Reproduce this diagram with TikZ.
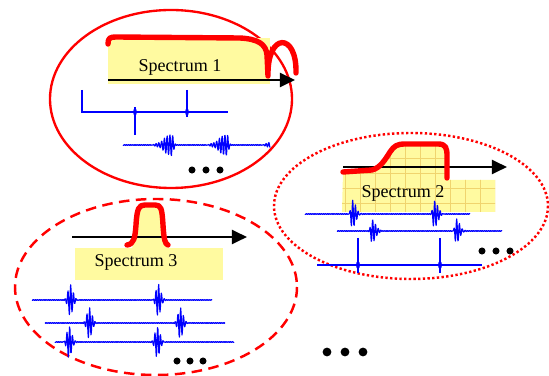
\documentclass[tikz,border=0pt]{standalone}
\usepackage{fontspec}
\setmainfont{Liberation Serif}
\usetikzlibrary{arrows.meta}
\definecolor{specyellow}{RGB}{255,250,160}
\definecolor{gridorange}{RGB}{240,212,110}
\tikzset{
  solidgroup/.style={draw=red,line width=2pt},
  dottedgroup/.style={draw=red,line width=2.1pt,dash pattern=on 2pt off 2pt},
  dashedgroup/.style={draw=red,line width=2.1pt,dash pattern=on 9pt off 5.5pt},
  spec/.style={draw=red,line width=4.6pt,line cap=round,line join=round},
  axis/.style={draw=black,line width=2.2pt,-{Triangle[length=13pt,width=12pt]}},
  signal/.style={draw=blue,line width=1pt,line join=round},
  spike/.style={draw=blue,line width=1.3pt},
  gridline/.style={draw=gridorange,line width=0.4pt},
  speclabel/.style={font=\fontsize{15.4}{18}\selectfont,inner sep=0pt},
  etc/.style={fill=black,circle,inner sep=0pt,minimum size=6pt},
  bigetc/.style={fill=black,circle,inner sep=0pt,minimum size=7.5pt},
  declare function={
    wcl(\wt)=max(min(\wt,40),-40);
    wav(\wt,\wa,\wb)=exp(-min(wcl(\wt)*wcl(\wt)/ifthenelse(\wt<0,\wa,\wb),12))*sin(130*wcl(\wt));
    wob(\wt)=sin(10*mod(17*\wt,36));
  }
}
\newcommand{\trace}[8]{\draw[signal] plot[domain=#2:#3,samples=420] (\x,{#1-#6*(wav(\x-#4,#7,#8)+wav(\x-#5,#7,#8))+0.4*wob(\x)});}
\begin{document}
\begin{tikzpicture}[x=0.03cm,y=-0.03cm]
  \useasboundingbox (0,0) rectangle (549,376);

  % the three groups
  \draw[solidgroup] (171,99) ellipse [x radius=121, y radius=89];
  \draw[dottedgroup] (411,206) ellipse [x radius=137, y radius=73];
  \draw[dashedgroup] (156,287) ellipse [x radius=141, y radius=88];

  % spectrum 1
  \fill[specyellow] (108,38) rectangle (270,84);
  \node[speclabel] (s1) at (180,67) {Spectrum 1};
  \coordinate (a1s) at (108,80);
  \coordinate (a1e) at (295,80);
  \draw[axis] (a1s) -- (a1e);
  \draw[spec] (108,44) .. controls (108,38) and (110,37) .. (116,37) -- (240,38)
    .. controls (258,39) and (266,44) .. (267,55) -- (268,76)
    .. controls (267,32) and (297,32) .. (296,73);
  \draw[spike] (82,90) -- (82,112) -- (228,112);
  \draw[spike] (135,107) -- (135,135);
  \draw[spike] (187,90) -- (187,117);
  \fill[blue] (135,112) ellipse [x radius=1.8, y radius=3.8];
  \fill[blue] (187,112) ellipse [x radius=1.8, y radius=3.8];
  \draw[signal] plot[domain=123:270,samples=420]
    (\x,{145-11*(wav(\x-172,110,4)+wav(\x-227,110,4)+wav(\x-282,110,4))+0.4*wob(\x)});
  \foreach \i/\px in {1/192,2/206,3/220}
    \node[etc] (e1\i) at (\px,170) {};

  % spectrum 2
  \begin{scope}
    \clip (343,172) -- (372,170) .. controls (380,168) and (385,160) .. (390,152)
      .. controls (394,146) and (397,144) .. (405,144) -- (438,144)
      .. controls (446,144) and (447,148) .. (447,156) -- (447,180)
      -- (495,180) -- (495,212) -- (342,212) -- cycle;
    \fill[specyellow] (330,130) rectangle (500,215);
    \foreach \gx in {345,360,...,495}
      \draw[gridline] (\gx,140) -- (\gx,215);
    \foreach \gy in {158,173,...,210}
      \draw[gridline] (335,\gy) -- (500,\gy);
  \end{scope}
  \node[speclabel] (s2) at (403,193) {Spectrum 2};
  \coordinate (a2s) at (343,167);
  \coordinate (a2e) at (507,167);
  \draw[axis] (a2s) -- (a2e);
  \draw[spec] (343,172) -- (372,170) .. controls (380,168) and (385,160) .. (390,152)
    .. controls (394,146) and (397,144) .. (405,144) -- (438,144)
    .. controls (446,144) and (447,148) .. (447,156) -- (447,178);
  \trace{214}{305}{470}{352}{434}{14}{3}{25}
  \trace{231}{337}{502}{372}{456}{12}{3}{25}
  \draw[spike] (317,265) -- (482,265);
  \draw[spike] (358,238) -- (358,273);
  \draw[spike] (440,238) -- (440,273);
  \fill[blue] (358,265) ellipse [x radius=2, y radius=4];
  \fill[blue] (440,265) ellipse [x radius=2, y radius=4];
  \foreach \i/\px in {1/482,2/496,3/510}
    \node[etc] (e2\i) at (\px,251) {};

  % spectrum 3
  \fill[specyellow] (75,248) rectangle (223,280);
  \fill[specyellow] (132,249) -- (136,225) .. controls (137,208) and (139,205) .. (145,205)
    -- (155,205) .. controls (161,205) and (162,208) .. (163,225) -- (167,249) -- cycle;
  \node[speclabel] (s3) at (136,262) {Spectrum 3};
  \coordinate (a3s) at (72,237);
  \coordinate (a3e) at (247,237);
  \draw[axis] (a3s) -- (a3e);
  \draw[spec] (127,245) .. controls (134,244) and (135,238) .. (136,225)
    .. controls (137,208) and (139,205) .. (145,205) -- (155,205)
    .. controls (161,205) and (162,208) .. (163,225)
    .. controls (164,240) and (165,244) .. (168,245);
  \trace{300}{32}{212}{70}{158}{16}{8}{15}
  \trace{323}{45}{225}{89}{180}{16}{8}{15}
  \trace{342}{55}{234}{69}{157}{16}{8}{15}
  \foreach \i/\px in {1/177,2/190,3/203}
    \node[etc] (e3\i) at (\px,361) {};

  % more groups
  \foreach \i/\px in {1/327,2/345,3/363}
    \node[bigetc] (e4\i) at (\px,352) {};
\end{tikzpicture}
\end{document}
